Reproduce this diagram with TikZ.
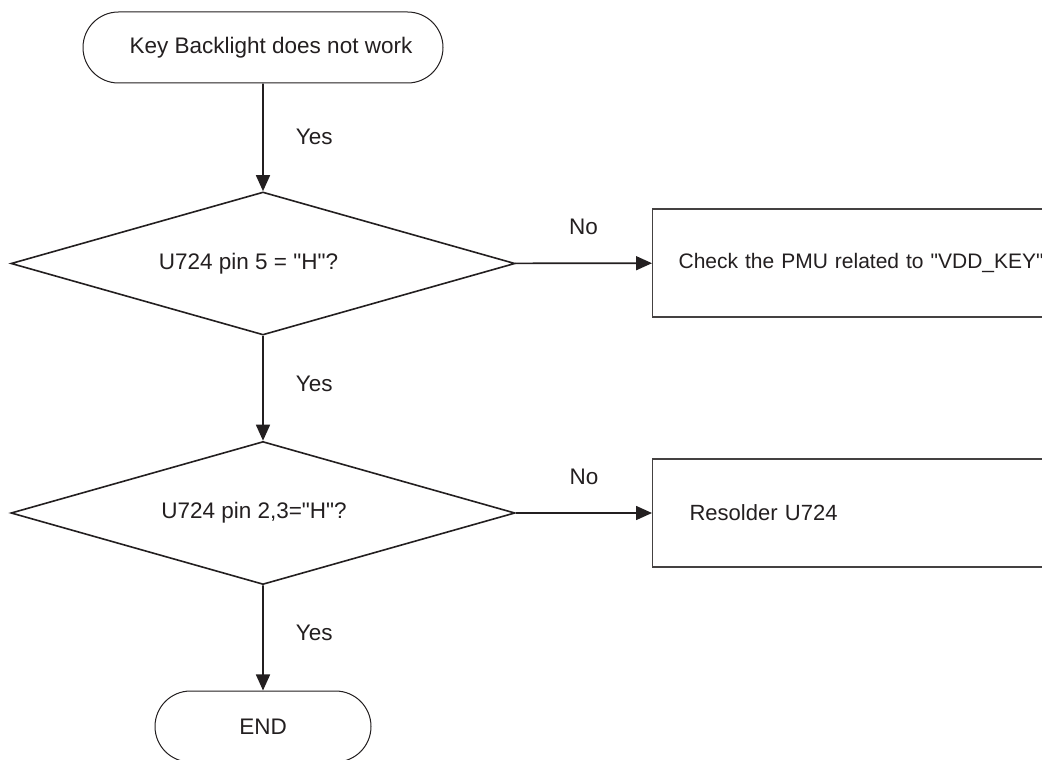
\documentclass[tikz,border=0pt]{standalone}
\usepackage{fontspec}
\setmainfont{Liberation Sans}[Ligatures=TeXOff]
\usetikzlibrary{shapes.geometric,shapes.misc,arrows.meta}
\definecolor{ink}{HTML}{231F20}
\tikzset{
  every node/.style={font=\fontsize{22.5}{27}\selectfont, text=ink},
  terminal/.style={rounded rectangle, draw=ink, line width=1pt, minimum height=71pt, inner sep=0pt},
  decision/.style={diamond, aspect=3.52, draw=ink, line width=1.6pt, minimum width=504pt, minimum height=143pt, inner sep=0pt},
  actionbox/.style={rectangle, draw=ink!85, line width=1.2pt, minimum height=108pt, align=left, anchor=west},
  flow/.style={draw=ink, line width=1.6pt, -{Triangle[length=16pt,width=14pt]}},
  lbl/.style={anchor=west, inner sep=0pt}
}
\begin{document}
\begin{tikzpicture}[x=1pt,y=-1pt]
\useasboundingbox (0,0) rectangle (1042,760);
\clip (0,0) rectangle (1042,760);
\fill[white] (0,0) rectangle (1042,760);
\node[terminal, minimum width=360pt] (start) at (263,47.5) {\hspace*{16pt}Key Backlight does not work};
\node[decision] (d1) at (263,263.5) {\hspace*{-29pt}U724 pin 5 = "H"?};
\node[decision] (d2) at (263,513) {\hspace*{-18pt}U724 pin 2,3="H"?};
\node[terminal, minimum width=216pt] (end) at (263,726.5) {END};
\node[actionbox, inner xsep=26pt, text width=500pt, font=\fontsize{21}{25}\selectfont] (b1) at (652,263) {Check the PMU related to "VDD\_KEY"};
\node[actionbox, inner xsep=37pt, text width=500pt, font=\fontsize{22}{26}\selectfont] (b2) at (652,513) {Resolder U724};
\draw[flow] (start) -- node[lbl, xshift=32pt] {Yes} (d1);
\draw[flow] (d1) -- node[lbl, xshift=32pt, yshift=4pt] {Yes} (d2);
\draw[flow] (d2) -- node[lbl, xshift=32pt, yshift=5pt] {Yes} (end);
\draw[flow] (d1) -- node[above, yshift=24pt] {No} (b1);
\draw[flow] (d2) -- node[above, yshift=24pt] {No} (b2);
\end{tikzpicture}
\end{document}
